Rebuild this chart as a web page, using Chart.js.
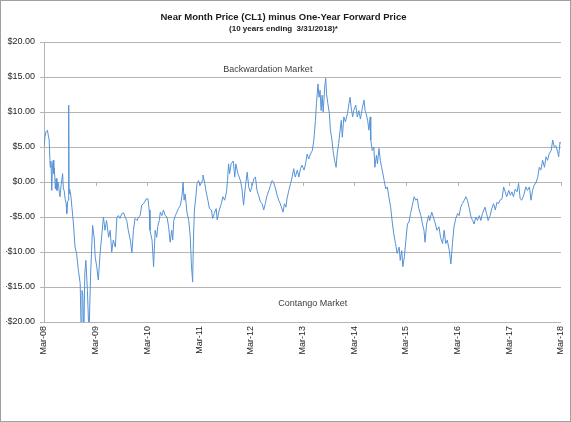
<!DOCTYPE html>
<html>
<head>
<meta charset="utf-8">
<title>Near Month Price (CL1) minus One-Year Forward Price</title>
<script src="https://cdn.jsdelivr.net/npm/chart.js@4.4.1/dist/chart.umd.min.js"></script>
<style>
  html, body { margin: 0; padding: 0; background: #fff; }
  #wrap { width: 571px; height: 422px; position: relative; }
</style>
</head>
<body>
<div id="wrap"><canvas id="spreadChart"></canvas></div>
<script>
// --- DATA ---
const tickLabels = ['Mar-08', 'Mar-09', 'Mar-10', 'Mar-11', 'Mar-12', 'Mar-13',
  'Mar-14', 'Mar-15', 'Mar-16', 'Mar-17', 'Mar-18'];

// time in years counted from March 2008
const yearsFromMar08 = [
  // 2008 - 2010
  0.00, 0.02, 0.04, 0.065, 0.08, 0.10, 0.12, 0.135, 0.15, 0.165,
  0.18, 0.19, 0.20, 0.22, 0.235, 0.25, 0.27, 0.28, 0.295, 0.31,
  0.33, 0.36, 0.375, 0.39, 0.41, 0.43, 0.44, 0.455, 0.47, 0.478,
  0.485, 0.49, 0.50, 0.52, 0.54, 0.57, 0.60, 0.63, 0.665, 0.70,
  0.72, 0.735, 0.75, 0.77, 0.79, 0.81, 0.84, 0.87, 0.90, 0.92,
  0.94, 0.97, 0.99, 1.02, 1.05, 1.085, 1.12, 1.15, 1.18, 1.21,
  1.25, 1.28, 1.31, 1.34, 1.38, 1.41, 1.44, 1.47, 1.505, 1.54,
  1.57, 1.60, 1.63, 1.67, 1.70, 1.73, 1.76, 1.80, 1.83, 1.86,
  1.89, 1.925, 1.98,
  // 2010 - 2012
  2.01, 2.035, 2.05, 2.09, 2.12, 2.15, 2.18, 2.20, 2.23, 2.25,
  2.28, 2.31, 2.345, 2.38, 2.41, 2.44, 2.47, 2.49, 2.51, 2.54,
  2.57, 2.60, 2.64, 2.67, 2.69, 2.71, 2.73, 2.765, 2.80, 2.83,
  2.85, 2.875, 2.89, 2.91, 2.94, 2.96, 2.99, 3.02, 3.06, 3.075,
  3.11, 3.13, 3.17, 3.20, 3.24, 3.26, 3.295, 3.33, 3.35, 3.39,
  3.43, 3.46, 3.495, 3.53, 3.55, 3.57, 3.59, 3.62, 3.66, 3.69,
  3.71, 3.75, 3.80, 3.83, 3.86, 3.895, 3.93, 3.96, 3.99, 4.02,
  4.06, 4.09, 4.12,
  // 2012 - 2014
  4.15, 4.19, 4.22, 4.25, 4.28, 4.315, 4.35, 4.38, 4.41, 4.44,
  4.48, 4.51, 4.54, 4.57, 4.61, 4.625, 4.65, 4.68, 4.70, 4.735,
  4.77, 4.80, 4.83, 4.86, 4.90, 4.93, 4.96, 4.99, 5.03, 5.06,
  5.09, 5.12, 5.155, 5.19, 5.22, 5.25, 5.27, 5.30, 5.32, 5.34,
  5.36, 5.38, 5.40, 5.43, 5.45, 5.465, 5.49, 5.52, 5.54, 5.57,
  5.59, 5.62, 5.65, 5.67, 5.70, 5.72, 5.75, 5.77, 5.80, 5.83,
  5.87, 5.90, 5.92, 5.94, 5.97, 5.99, 6.03, 6.06, 6.09, 6.12,
  6.16,
  // 2014 - 2016
  6.19, 6.21, 6.23, 6.26, 6.285, 6.31, 6.32, 6.35, 6.38, 6.40,
  6.43, 6.45, 6.48, 6.505, 6.53, 6.56, 6.58, 6.61, 6.64, 6.67,
  6.705, 6.74, 6.77, 6.80, 6.83, 6.87, 6.89, 6.92, 6.94, 6.97,
  7.00, 7.03, 7.06, 7.09, 7.125, 7.16, 7.19, 7.22, 7.25, 7.29,
  7.32, 7.35, 7.37, 7.40, 7.44, 7.46, 7.50, 7.53, 7.56, 7.60,
  7.64, 7.67, 7.71, 7.74, 7.77, 7.80, 7.84, 7.87, 7.90, 7.93,
  7.965, 8.00, 8.03, 8.06, 8.09, 8.13, 8.16, 8.19,
  // 2016 - 2018
  8.22, 8.26, 8.29, 8.32, 8.35, 8.385, 8.42, 8.45, 8.48, 8.53,
  8.56, 8.59, 8.63, 8.66, 8.695, 8.73, 8.76, 8.79, 8.82, 8.86,
  8.89, 8.92, 8.95, 8.99, 9.02, 9.05, 9.08, 9.115, 9.15, 9.18,
  9.21, 9.24, 9.28, 9.32, 9.35, 9.39, 9.42, 9.45, 9.48, 9.52,
  9.55, 9.58, 9.61, 9.645, 9.68, 9.71, 9.74, 9.77, 9.81, 9.84,
  9.87, 9.90, 9.935, 9.955, 9.98, 10.0,
];

// near month minus one-year forward, USD
const spreadUsd = [
  // 2008 - 2010
  5.0, 6.5, 7.2, 7.4, 6.8, 6.0, 2.1, 3.0, -1.2, 2.5,
  3.1, 1.2, 2.0, -1.0, 0.5, -1.2, 0.0, -0.2, -1.5, -2.1,
  -0.5, 1.2, -1.0, -1.2, -2.5, -3.1, -4.5, -2.8, -2.6, 11.0,
  -1.5, -1.7, -1.0, -2.0, -3.6, -6.0, -9.3, -10.2, -12.6, -14.5,
  -22, -15.5, -16, -22, -13, -11.2, -15.5, -22, -13.6, -9.8,
  -6.2, -7.9, -10.7, -12.1, -14.0, -10.2, -7.4, -5.0, -6.9, -5.5,
  -7.9, -6.9, -10.0, -8.3, -9.3, -5.0, -4.8, -5.2, -4.5, -4.4,
  -5.0, -5.5, -6.9, -8.3, -10.1, -6.9, -5.2, -5.5, -5.0, -4.8,
  -3.3, -3.1, -2.4,
  // 2010 - 2012
  -2.4, -4.0, -6.9, -8.3, -12.1, -6.9, -7.9, -6.4, -5.5, -4.3,
  -4.8, -4.0, -4.8, -5.0, -6.4, -8.6, -6.9, -8.3, -5.5, -4.8,
  -4.3, -3.8, -3.3, -1.9, 0.0, -2.6, -1.7, -4.3, -5.5, -7.9,
  -11.7, -14.3, -8.3, -4.0, -1.9, -0.2, 0.2, -0.5, 0.2, 1.0,
  -0.2, -1.2, -2.6, -3.8, -4.0, -5.2, -4.5, -3.8, -5.4, -4.0,
  -3.1, -2.1, -2.6, -1.4, 0.2, 2.6, 1.2, 2.6, 3.0, 0.7,
  2.6, 1.2, 0.2, -1.0, -3.3, -0.7, 1.4, -0.7, -1.4, -0.7,
  0.5, 0.7, -1.2,
  // 2012 - 2014
  -1.9, -2.9, -3.1, -4.0, -3.1, -1.9, -1.2, -0.5, 0.2, 0.0,
  -1.0, -1.9, -2.6, -3.1, -4.0, -4.3, -3.1, -3.6, -2.4, -1.2,
  -0.2, 0.7, 1.9, 0.7, 1.7, 0.7, 1.9, 2.4, 1.7, 2.6,
  4.0, 3.3, 4.0, 4.5, 6.0, 8.8, 11.2, 14.0, 12.1, 13.1,
  10.2, 12.4, 10.0, 13.6, 14.8, 12.6, 11.2, 9.8, 7.4, 6.0,
  4.5, 3.1, 2.1, 4.0, 5.5, 6.9, 8.8, 6.4, 9.3, 8.6,
  9.8, 11.2, 12.1, 10.7, 9.3, 10.2, 11.0, 9.3, 10.2, 9.0,
  10.7,
  // 2014 - 2016
  11.7, 10.2, 9.8, 8.8, 7.4, 9.3, 6.0, 4.5, 5.0, 2.1,
  3.8, 2.6, 4.8, 3.1, 2.1, 1.0, 0.2, -1.0, -0.7, -2.1,
  -3.6, -6.0, -7.6, -8.8, -10.2, -9.3, -11.2, -9.8, -12.1, -10.7,
  -8.3, -6.0, -5.7, -4.5, -3.3, -2.1, -2.6, -2.4, -3.8, -4.8,
  -6.0, -6.9, -8.6, -6.0, -4.8, -5.5, -4.3, -5.0, -5.7, -6.9,
  -6.4, -7.9, -8.8, -6.9, -8.8, -8.3, -9.8, -11.7, -8.8, -6.4,
  -5.2, -4.5, -4.8, -3.6, -3.1, -2.6, -2.1, -2.6,
  // 2016 - 2018
  -3.6, -5.0, -5.5, -6.0, -5.0, -5.5, -4.8, -5.5, -4.5, -3.6,
  -4.5, -5.5, -4.8, -3.8, -3.1, -4.0, -2.9, -3.1, -2.6, -2.4,
  -0.7, -1.4, -2.1, -1.2, -1.9, -1.4, -2.1, -1.0, -1.4, -0.2,
  -2.4, -2.6, -1.9, -0.7, -1.2, -0.7, -2.6, -1.2, -0.5, 0.0,
  0.7, 2.1, 1.7, 3.1, 2.1, 3.6, 3.1, 4.0, 4.5, 6.0,
  5.0, 5.2, 4.3, 3.6, 5.7, 5.5,
];

if (yearsFromMar08.length !== spreadUsd.length) {
  console.error('length mismatch', yearsFromMar08.length, spreadUsd.length);
}

const FONT = "'Liberation Sans', Arial, sans-serif";
const GRID = '#B4B4B4';

// --- EXTRAS: zero-line ticks, market notes, outer border ---
const chartExtras = {
  id: 'chartExtras',
  beforeDatasetsDraw(chart) {
    const { ctx, scales: { x, y } } = chart;
    const y0 = y.getPixelForValue(0);
    ctx.save();
    ctx.strokeStyle = GRID;
    ctx.lineWidth = 1;
    ctx.beginPath();
    tickLabels.forEach((_, i) => {
      const px = Math.round(x.getPixelForValue(i)) + 0.5;
      ctx.moveTo(px, y0);
      ctx.lineTo(px, y0 + 4);
    });
    ctx.stroke();
    ctx.restore();
  },
  afterDatasetsDraw(chart, args, opts) {
    const { ctx, scales: { x, y } } = chart;
    ctx.save();
    ctx.font = `9px ${FONT}`;
    ctx.fillStyle = '#404040';
    ctx.textAlign = 'center';
    ctx.textBaseline = 'middle';
    opts.notes.forEach((n) => {
      ctx.fillText(n.text, x.getPixelForValue(n.at), y.getPixelForValue(n.level));
    });
    ctx.restore();
  },
  afterDraw(chart) {
    const { ctx, width, height } = chart;
    ctx.save();
    ctx.strokeStyle = '#A0A0A0';
    ctx.lineWidth = 1;
    ctx.strokeRect(0.5, 0.5, width - 1, height - 1);
    ctx.restore();
  },
};

new Chart(document.getElementById('spreadChart').getContext('2d'), {
  type: 'line',
  data: {
    datasets: [{
      label: 'CL1 minus 1-yr forward',
      data: yearsFromMar08.map((t, i) => ({ x: t, y: spreadUsd[i] })),
      borderColor: '#5592D6',
      borderWidth: 1,
      pointRadius: 0,
      tension: 0,
      fill: false,
    }],
  },
  options: {
    responsive: true,
    maintainAspectRatio: false,
    animation: false,
    layout: { padding: { left: 6, right: 10, top: 3, bottom: 0 } },
    scales: {
      x: {
        type: 'linear',
        min: 0,
        max: tickLabels.length - 1,
        afterBuildTicks: (scale) => {
          scale.ticks = tickLabels.map((_, i) => ({ value: i }));
        },
        afterFit: (scale) => {
          scale.height = 100;
          scale.paddingLeft = 0;
          scale.paddingRight = 4;
        },
        ticks: {
          callback: (v) => tickLabels[v],
          minRotation: 90,
          maxRotation: 90,
          autoSkip: false,
          padding: 4,
          color: '#262626',
          font: { family: FONT, size: 9 },
        },
        grid: { display: false, drawTicks: false },
        border: { display: false },
      },
      y: {
        min: -20,
        max: 20,
        ticks: {
          stepSize: 5,
          padding: 5,
          color: '#262626',
          font: { family: FONT, size: 9 },
          callback: (v) => (v < 0 ? '-' : '') + '$' + Math.abs(v).toFixed(2),
        },
        afterFit: (scale) => { scale.width = 38; },
        grid: { color: GRID, lineWidth: 1, tickLength: 4 },
        border: { display: true, color: GRID, width: 1 },
      },
    },
    plugins: {
      legend: { display: false },
      tooltip: { enabled: false },
      title: {
        display: true,
        text: 'Near Month Price (CL1) minus One-Year Forward Price',
        color: '#1a1a1a',
        font: { family: FONT, size: 9.5, weight: 'bold' },
        padding: { top: 9, bottom: 0 },
      },
      subtitle: {
        display: true,
        text: '(10 years ending  3/31/2018)*',
        color: '#1a1a1a',
        font: { family: FONT, size: 8, weight: 'bold' },
        padding: { top: 1, bottom: 8 },
      },
      chartExtras: {
        notes: [
          { text: 'Backwardation Market', at: 4.33, level: 16.1 },
          { text: 'Contango Market', at: 5.2, level: -17.3 },
        ],
      },
    },
  },
  plugins: [chartExtras],
});
</script>
</body>
</html>
